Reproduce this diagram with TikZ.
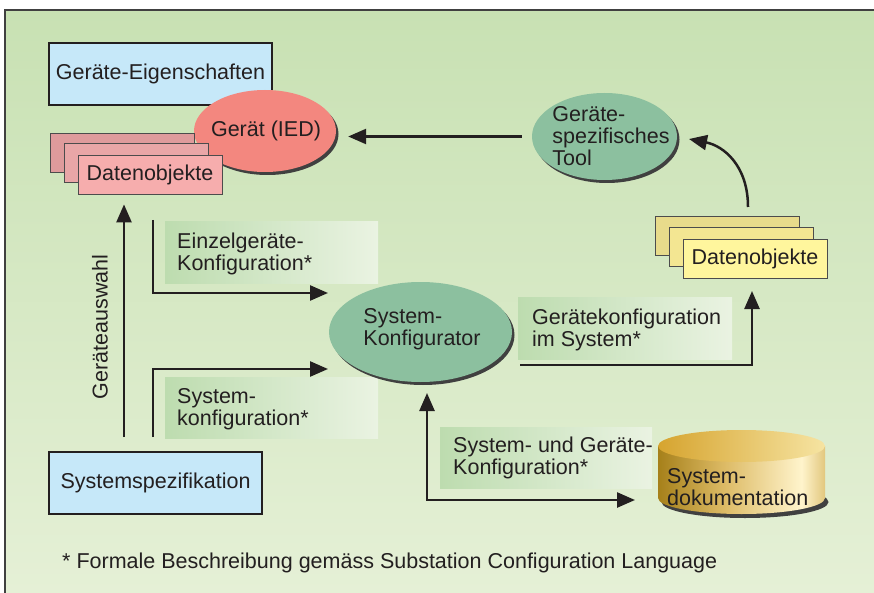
\documentclass[tikz,border=0pt]{standalone}
\usepackage{fontspec}
\setmainfont{Liberation Sans}
\usetikzlibrary{arrows.meta,shapes.geometric,shadows,calc}
\definecolor{bgtop}{HTML}{C8E1B3}
\definecolor{bgbot}{HTML}{E5F0D6}
\definecolor{ink}{HTML}{231F20}
\definecolor{bluefill}{HTML}{C6E8F9}
\definecolor{redA}{HTML}{DF9B9C}
\definecolor{redB}{HTML}{E9A6A7}
\definecolor{redC}{HTML}{F6ADAD}
\definecolor{redE}{HTML}{F3877F}
\definecolor{yelA}{HTML}{E8DB8B}
\definecolor{yelB}{HTML}{F3E692}
\definecolor{yelC}{HTML}{FFF69D}
\definecolor{tealE}{HTML}{8CC09F}
\definecolor{lblL}{HTML}{BDDCAF}
\definecolor{lblR}{HTML}{EAF3E2}
\definecolor{goldD}{HTML}{A6801A}
\definecolor{goldM}{HTML}{DDBB66}
\definecolor{goldL}{HTML}{FFF4CC}
\definecolor{goldR}{HTML}{E2C77E}
\definecolor{goldT}{HTML}{D6A42F}
\definecolor{goldTL}{HTML}{F6E4A2}
\pgfdeclarehorizontalshading{goldbody}{100bp}{color(0bp)=(goldD); color(25bp)=(goldD); color(45bp)=(goldM); color(68bp)=(goldL); color(75bp)=(goldR); color(100bp)=(goldR)}
\begin{document}
\begin{tikzpicture}[x=1pt,y=-1pt,
  every node/.style={text=ink, font=\fontsize{21.5}{22}\selectfont},
  specbox/.style={draw=ink, line width=2.5pt, fill=bluefill, minimum height=62pt, inner sep=0pt},
  dobj/.style={draw=black!70, line width=0.8pt, minimum width=144pt, minimum height=39pt, inner sep=0pt},
  ell/.style={ellipse, inner sep=0pt, drop shadow={shadow xshift=2.5pt, shadow yshift=-3pt, fill=black!75, opacity=1}},
  lbl/.style={left color=lblL, right color=lblR, minimum height=61pt, inner sep=0pt},
  txt/.style={align=left, anchor=west, inner sep=0pt},
  arr/.style={line width=2.5pt, draw=ink, -{Triangle[length=18pt,width=15pt]}},
  arrboth/.style={line width=2.5pt, draw=ink, {Triangle[length=18pt,width=15pt]}-{Triangle[length=18pt,width=15pt]}}
]
\useasboundingbox (0,0) rectangle (874,593);
% background
\fill[white] (0,0) rectangle (874,593);
\shade[top color=bgtop, bottom color=bgbot] (5,10) rectangle (874,593);
\draw[black!75, line width=1.3pt] (874,10) -- (5,10) -- (5,593);

% label boxes
\node[lbl, minimum width=213pt] (lb1) at (271.5,252.5) {};
\node[txt] (t1) at (177,253.5) {Einzelgeräte-\\Konfiguration*};
\node[lbl, minimum width=213pt] (lb2) at (271.5,407.5) {};
\node[txt] (t2) at (177,409) {System-\\konfiguration*};
\node[lbl, minimum width=214pt, minimum height=62pt] (lb3) at (625,328) {};
\node[txt] (t3) at (532,329.5) {Gerätekonfiguration\\im System*};
\node[lbl, minimum width=212pt] (lb4) at (546,457.5) {};
\node[txt] (t4) at (453,458) {System- und Geräte-\\Konfiguration*};

% top-left group
\node[specbox, minimum width=223pt] (eig) at (160.5,74) {Geräte-Eigenschaften};
\node[ell, fill=redE, minimum width=142pt, minimum height=82pt] (ied) at (265,131) {};
\node[inner sep=0pt] (iedt) at (266,131) {Gerät (IED)};
\node[dobj, fill=redA] (dr1) at (122,152.5) {};
\node[dobj, fill=redB] (dr2) at (136,163) {};
\node[dobj, fill=redC] (dr3) at (150,174.5) {Datenobjekte};

% tool
\node[ell, fill=tealE, minimum width=145pt, minimum height=87pt] (tool) at (604.5,136.5) {};
\node[align=left, inner sep=0pt] (toolt) at (611,136) {Geräte-\\spezifisches\\Tool};

% yellow stack
\node[dobj, fill=yelA] (dy1) at (727.5,236) {};
\node[dobj, fill=yelB] (dy2) at (741.5,247) {};
\node[dobj, fill=yelC] (dy3) at (755,258.5) {Datenobjekte};

% system configurator
\node[ell, fill=tealE, minimum width=183pt, minimum height=100pt] (skonf) at (420.5,332) {};
\node[align=left, inner sep=0pt] (skonft) at (422,329) {System-\\Konfigurator};

% system specification
\node[specbox, minimum width=213pt] (spez) at (155.5,483) {Systemspezifikation};

% cylinder
\fill[black!75] (745,502) ellipse[x radius=83.5, y radius=16];
\shade[shading=goldbody] (658,446) -- (658,498) arc[start angle=180, end angle=0, x radius=83.5, y radius=16] -- (825,446) -- cycle;
\shade[left color=goldT, right color=goldTL] (741.5,446) ellipse[x radius=83.5, y radius=16];
\node[txt] (doku) at (667,487.5) {System-\\dokumentation};

% connectors
\draw[arr, shorten <=10pt, shorten >=12pt] (tool.west) -- (tool.west -| ied.east);
\coordinate (c1) at (748,207);
\coordinate (c2) at (689,139);
\draw[arr] (c1) .. controls (748,166) and (724,146) .. (c2);
\coordinate (ga) at (124,437);
\draw[arr, shorten >=10pt] (ga) -- (ga |- dr3.south);
\node[rotate=90, inner sep=0pt] (gaw) at (100,327) {Geräteauswahl};
\coordinate (a1s) at (153,220);
\coordinate (a1e) at (328,293);
\draw[arr] (a1s) |- (a1e);
\coordinate (a2s) at (153,437);
\coordinate (a2e) at (328,369);
\draw[arr] (a2s) |- (a2e);
\coordinate (g1) at (520,365);
\coordinate (g2) at (752,291);
\draw[arr] (g1) -| (g2);
\coordinate (d1) at (427,393);
\coordinate (d2) at (635,500);
\draw[arrboth] (d1) |- (d2);

% footnote
\node[txt] (fn) at (62,563) {* Formale Beschreibung gemäss Substation Configuration Language};
\end{tikzpicture}
\end{document}
